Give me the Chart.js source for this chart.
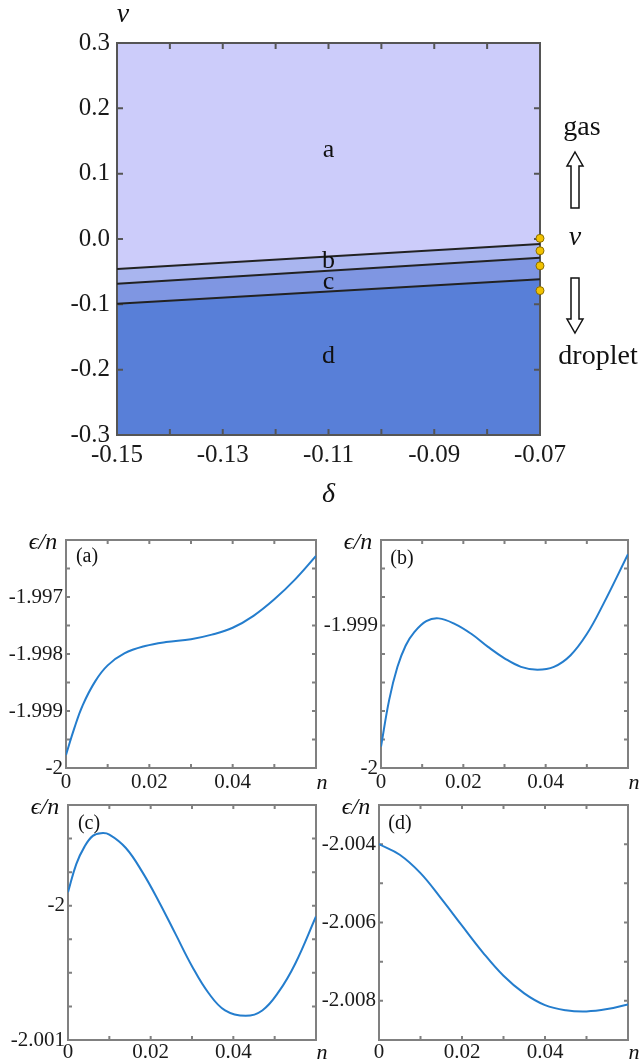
<!DOCTYPE html>
<html>
<head>
<meta charset="utf-8">
<script src="https://cdn.jsdelivr.net/npm/chart.js@4.4.0/dist/chart.umd.min.js"></script>
<style>
html,body{margin:0;padding:0;background:#fff;width:642px;height:1061px;overflow:hidden;position:relative}
canvas{position:absolute}
</style>
</head>
<body>
<canvas id="cTop" width="642" height="510" style="left:0;top:0"></canvas>
<canvas id="cA" width="335" height="292" style="left:0;top:505px"></canvas>
<canvas id="cB" width="321" height="292" style="left:321px;top:505px"></canvas>
<canvas id="cC" width="335" height="281" style="left:0;top:780px"></canvas>
<canvas id="cD" width="321" height="281" style="left:321px;top:780px"></canvas>
<script>
// ---------------- DATA ----------------
// Phase diagram (top)
const deltaEnds   = [-0.15, -0.07];
const boundaryAB  = [-0.046, -0.0077];
const boundaryBC  = [-0.0686, -0.0286];
const boundaryCD  = [-0.0992, -0.0617];
const regionNames = ['a', 'b', 'c', 'd'];
const regionDelta = [-0.11, -0.11, -0.11, -0.11];
const regionV     = [0.136, -0.034, -0.066, -0.179];
const sampleDelta = [-0.07, -0.07, -0.07, -0.07];
const sampleV     = [0.001, -0.018, -0.041, -0.079];
const topXTitle = 'δ';
const topYTitle = 'v';
const gasText = 'gas';
const dropletText = 'droplet';
const midText = 'v';

// Energy per particle panels
const nA   = [0, 0.002, 0.004, 0.007, 0.01, 0.014, 0.019, 0.024, 0.03, 0.035, 0.04, 0.045, 0.05, 0.055, 0.06];
const epsA = [-1.99977, -1.99930, -1.99890, -1.99848, -1.99820, -1.99799, -1.99786, -1.99779, -1.99774, -1.99766, -1.99754, -1.99733, -1.99704, -1.99669, -1.99628];

const nB   = [0, 0.002, 0.004, 0.006, 0.008, 0.011, 0.014, 0.018, 0.022, 0.026, 0.03, 0.034, 0.038, 0.042, 0.046, 0.05, 0.054, 0.06];
const epsB = [-1.99985, -1.99952, -1.99929, -1.99914, -1.99905, -1.99897, -1.99895, -1.99899, -1.99906, -1.99915, -1.99923, -1.99929, -1.99931, -1.99929, -1.99921, -1.99906, -1.99885, -1.99850];

const nC   = [0, 0.002, 0.004, 0.006, 0.008, 0.01, 0.014, 0.018, 0.022, 0.026, 0.03, 0.034, 0.038, 0.043, 0.047, 0.051, 0.055, 0.06];
const epsC = [-1.99990, -1.99969, -1.99956, -1.99948, -1.99946, -1.99947, -1.99957, -1.99975, -1.99997, -2.00021, -2.00045, -2.00065, -2.00078, -2.00082, -2.00078, -2.00064, -2.00043, -2.00008];

const nD   = [0, 0.005, 0.01, 0.015, 0.02, 0.025, 0.03, 0.035, 0.04, 0.045, 0.05, 0.055, 0.06];
const epsD = [-2.00400, -2.00427, -2.00474, -2.00539, -2.00608, -2.00676, -2.00736, -2.00781, -2.00811, -2.00824, -2.00827, -2.00821, -2.00809];

const panelTags = ['(a)', '(b)', '(c)', '(d)'];
const panelYTitle = 'ϵ/n';
const panelXTitle = 'n';
const yRanges = [[-2, -1.996], [-2, -1.9984], [-2.001, -1.99925], [-2.009, -2.003]];
const yTickSteps = [0.0005, 0.0002, 0.00025, 0.001];
const yLabelSteps = [0.001, 0.001, 0.001, 0.002];
const nRange = [0, 0.06];
const nTickStep = 0.01;

// ---------------- HELPERS ----------------
const FONT = "'Liberation Serif','Times New Roman',serif";

function isMult(v, s) { const q = v / s; return Math.abs(q - Math.round(q)) < 1e-6; }

function frameTicks(chart, xStep, yStep, len, color, lw) {
  const { ctx, chartArea: a, scales: { x, y } } = chart;
  ctx.save();
  ctx.strokeStyle = color;
  ctx.lineWidth = lw;
  ctx.beginPath();
  for (let i = 0; ; i++) {
    const v = x.min + i * xStep;
    if (v > x.max + xStep * 1e-6) break;
    const px = x.getPixelForValue(v);
    ctx.moveTo(px, a.bottom); ctx.lineTo(px, a.bottom - len);
    ctx.moveTo(px, a.top); ctx.lineTo(px, a.top + len);
  }
  for (let i = 0; ; i++) {
    const v = y.min + i * yStep;
    if (v > y.max + yStep * 1e-6) break;
    const py = y.getPixelForValue(v);
    ctx.moveTo(a.left, py); ctx.lineTo(a.left + len, py);
    ctx.moveTo(a.right, py); ctx.lineTo(a.right - len, py);
  }
  ctx.stroke();
  ctx.strokeRect(a.left, a.top, a.right - a.left, a.bottom - a.top);
  ctx.restore();
}

function hollowArrow(ctx, cx, tipY, baseY, headLen, headHalf, shaftHalf) {
  const dir = baseY > tipY ? 1 : -1;
  const hb = tipY + dir * headLen;
  ctx.beginPath();
  ctx.moveTo(cx, tipY);
  ctx.lineTo(cx + headHalf, hb);
  ctx.lineTo(cx + shaftHalf, hb);
  ctx.lineTo(cx + shaftHalf, baseY);
  ctx.lineTo(cx - shaftHalf, baseY);
  ctx.lineTo(cx - shaftHalf, hb);
  ctx.lineTo(cx - headHalf, hb);
  ctx.closePath();
  ctx.fillStyle = '#fff';
  ctx.fill();
  ctx.strokeStyle = '#111';
  ctx.lineWidth = 1.5;
  ctx.stroke();
}

// ---------------- TOP CHART ----------------
const colA = '#CCCCFA', colB = '#A9B5EF', colC = '#7F96E2', colD = '#587FD8';
const toPts = (xs, ys) => xs.map((x, i) => ({ x, y: ys[i] }));

new Chart(document.getElementById('cTop'), {
  type: 'line',
  data: {
    datasets: [
      { type: 'scatter', data: toPts(sampleDelta, sampleV), pointRadius: 4, pointBackgroundColor: '#F2C200',
        pointBorderColor: '#8A6D00', pointBorderWidth: 1, showLine: false, clip: false },
      { data: toPts(deltaEnds, boundaryAB), borderColor: '#222', borderWidth: 2, pointRadius: 0, fill: 'end', backgroundColor: colA },
      { data: toPts(deltaEnds, boundaryBC), borderColor: '#222', borderWidth: 2, pointRadius: 0, fill: 1, backgroundColor: colB },
      { data: toPts(deltaEnds, boundaryCD), borderColor: '#222', borderWidth: 2, pointRadius: 0, fill: 2, backgroundColor: colC },
      { data: toPts(deltaEnds, boundaryCD), borderColor: 'rgba(0,0,0,0)', borderWidth: 0, pointRadius: 0, fill: 'start', backgroundColor: colD }
    ]
  },
  options: {
    responsive: false, animation: false, events: [],
    layout: { padding: { left: 0, top: 43, right: 102, bottom: 0 } },
    plugins: { legend: { display: false }, tooltip: { enabled: false }, filler: { drawTime: 'beforeDatasetsDraw' } },
    scales: {
      x: {
        type: 'linear', min: -0.15, max: -0.07,
        grid: { display: false, drawTicks: false }, border: { display: false },
        afterFit: s => { s.height = 75; },
        ticks: { stepSize: 0.01, autoSkip: false, maxRotation: 0, padding: 5, color: '#1a1a1a',
          font: { family: FONT, size: 25 },
          callback: (v, i) => (i % 2 === 0 ? v.toFixed(2) : '') }
      },
      y: {
        type: 'linear', min: -0.3, max: 0.3,
        grid: { display: false, drawTicks: false }, border: { display: false },
        afterFit: s => { s.width = 117; },
        ticks: { stepSize: 0.1, autoSkip: false, padding: 7, color: '#1a1a1a',
          font: { family: FONT, size: 25 },
          callback: v => (Math.abs(v) < 1e-9 ? '0.0' : v.toFixed(1)) }
      }
    }
  },
  plugins: [{
    id: 'topDecor',
    beforeDatasetsDraw(chart) { frameTicks(chart, 0.01, 0.1, 6, '#555', 2); },
    afterDraw(chart) {
      const { ctx, chartArea: a, scales: { x, y } } = chart;
      ctx.save();
      ctx.fillStyle = '#111';
      ctx.textAlign = 'center';
      ctx.textBaseline = 'middle';
      ctx.font = `26px ${FONT}`;
      regionNames.forEach((t, i) => ctx.fillText(t, x.getPixelForValue(regionDelta[i]), y.getPixelForValue(regionV[i])));
      ctx.font = `italic 28px ${FONT}`;
      ctx.fillText(topYTitle, a.left + 6, a.top - 28);
      ctx.fillText(topXTitle, (a.left + a.right) / 2, a.bottom + 60);
      ctx.fillText(midText, a.right + 35, 238);
      ctx.font = `28px ${FONT}`;
      ctx.fillText(gasText, a.right + 42, 128);
      ctx.fillText(dropletText, a.right + 58, 357);
      hollowArrow(ctx, a.right + 35, 152, 208, 14, 8, 4);
      hollowArrow(ctx, a.right + 35, 333, 278, 14, 8, 4);
      ctx.restore();
    }
  }]
});

// ---------------- PANELS ----------------
const panelData = [[nA, epsA], [nB, epsB], [nC, epsC], [nD, epsD]];
const panelLayout = [
  { id: 'cA', yW: 66, pad: { left: 0, top: 35, right: 19, bottom: 0 }, xH: 29, tp: 2, tagDy: 17 },
  { id: 'cB', yW: 60, pad: { left: 0, top: 35, right: 14, bottom: 0 }, xH: 29, tp: 2, tagDy: 19 },
  { id: 'cC', yW: 68, pad: { left: 0, top: 25, right: 19, bottom: 0 }, xH: 21, tp: 0, tagDy: 19 },
  { id: 'cD', yW: 58, pad: { left: 0, top: 25, right: 14, bottom: 0 }, xH: 21, tp: 0, tagDy: 19 }
];

panelLayout.forEach((L, k) => {
  const [ns, es] = panelData[k];
  const [yMin, yMax] = yRanges[k];
  const yStep = yTickSteps[k], yLab = yLabelSteps[k];
  new Chart(document.getElementById(L.id), {
    type: 'line',
    data: {
      datasets: [{
        data: toPts(ns, es), borderColor: 'rgb(36,125,205)', borderWidth: 2, pointRadius: 0,
        tension: 0.4, fill: false
      }]
    },
    options: {
      responsive: false, animation: false, events: [],
      layout: { padding: L.pad },
      plugins: { legend: { display: false }, tooltip: { enabled: false } },
      scales: {
        x: {
          type: 'linear', min: nRange[0], max: nRange[1],
          grid: { display: false, drawTicks: false }, border: { display: false },
          afterFit: s => { s.height = L.xH; },
          ticks: { stepSize: nTickStep, autoSkip: false, maxRotation: 0, padding: L.tp, color: '#1a1a1a',
            font: { family: FONT, size: 21 },
            callback: v => { const r = Math.round(v * 100); return (r % 2 === 0 && r < 6) ? String(parseFloat(v.toFixed(2))) : ''; } }
        },
        y: {
          type: 'linear', min: yMin, max: yMax,
          grid: { display: false, drawTicks: false }, border: { display: false },
          afterFit: s => { s.width = L.yW; },
          ticks: { stepSize: yStep, autoSkip: false, padding: 3, color: '#1a1a1a',
            font: { family: FONT, size: 21 },
            callback: v => (isMult(v, yLab) && v < yMax - 1e-9) ? String(parseFloat(v.toFixed(3))) : '' }
        }
      }
    },
    plugins: [{
      id: 'panelDecor',
      beforeDatasetsDraw(chart) { frameTicks(chart, nTickStep, yStep, 4, '#808080', 2); },
      afterDraw(chart) {
        const { ctx, chartArea: a } = chart;
        ctx.save();
        ctx.fillStyle = '#111';
        ctx.textAlign = 'center';
        ctx.textBaseline = 'middle';
        ctx.font = `20px ${FONT}`;
        ctx.fillText(panelTags[k], a.left + 21, a.top + L.tagDy);
        ctx.font = `italic 24px ${FONT}`;
        ctx.fillText(panelYTitle, a.left - 23, a.top + 3);
        ctx.font = `italic 22px ${FONT}`;
        ctx.fillText(panelXTitle, a.right + 6, a.bottom + L.tp + 13);
        ctx.restore();
      }
    }]
  });
});
</script>
</body>
</html>
